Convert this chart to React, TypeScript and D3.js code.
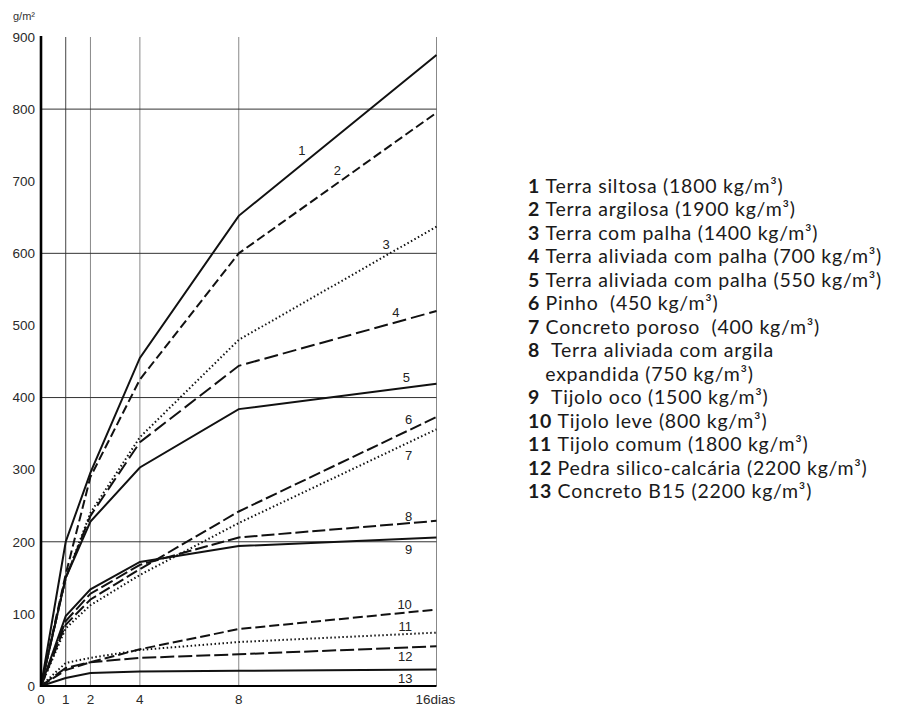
import React from 'react';
import * as d3 from 'd3';

// dias de exposição
const days = [0, 1, 2, 4, 8, 16];

// absorção de umidade (g/m²) por material
const s1 = [0, 200, 296, 455, 652, 875];
const s2 = [0, 155, 290, 425, 600, 795];
const s3 = [0, 150, 240, 345, 480, 637];
const s4 = [0, 150, 236, 338, 444, 520];
const s5 = [0, 150, 228, 303, 384, 419];
const s6 = [0, 85, 120, 162, 242, 373];
const s7 = [0, 80, 112, 154, 226, 356];
const s8 = [0, 90, 128, 168, 206, 229];
const s9 = [0, 97, 134, 172, 194, 206];
const s10 = [0, 22, 33, 51, 79, 106];
const s11 = [0, 32, 39, 50, 61, 74];
const s12 = [0, 25, 33, 39, 44, 55];
const s13 = [0, 11, 18, 20, 21, 23];

const series = [s1, s2, s3, s4, s5, s6, s7, s8, s9, s10, s11, s12, s13];

// tipo de traço de cada curva
const dashes = ['', '9 4', '1.5 2.5', '14 5', '', '12 4', '1.5 2.5', '13 4', '', '10 4', '1.5 2.5', '14 4', ''];

// onde vai o número de cada curva (dia, g/m²)
const labelAt: [number, number][] = [
  [10.55, 743], [11.99, 715], [13.96, 613], [14.36, 518], [14.78, 428],
  [14.87, 370], [14.87, 320], [14.87, 235], [14.87, 189],
  [14.71, 113], [14.74, 83], [14.74, 41], [14.74, 11],
];

const yTicks = [0, 100, 200, 300, 400, 500, 600, 700, 800, 900];
const xTicks = [0, 1, 2, 4, 8, 16];
const xTickText = ['0', '1', '2', '4', '8', '16dias'];
const hGrid = [200, 400, 600, 800];

const legendNum = ['1 ', '2 ', '3 ', '4 ', '5 ', '6 ', '7 ', '8  ', '', '9  ', '10 ', '11 ', '12 ', '13 '];
const legendText = [
  'Terra siltosa (1800 kg/m³)',
  'Terra argilosa (1900 kg/m³)',
  'Terra com palha (1400 kg/m³)',
  'Terra aliviada com palha (700 kg/m³)',
  'Terra aliviada com palha (550 kg/m³)',
  'Pinho  (450 kg/m³)',
  'Concreto poroso  (400 kg/m³)',
  'Terra aliviada com argila',
  '   expandida (750 kg/m³)',
  'Tijolo oco (1500 kg/m³)',
  'Tijolo leve (800 kg/m³)',
  'Tijolo comum (1800 kg/m³)',
  'Pedra silico-calcária (2200 kg/m³)',
  'Concreto B15 (2200 kg/m³)',
];

export default function App() {
  const x = d3.scaleLinear().domain([0, 16]).range([41, 436.5]);
  const y = d3.scaleLinear().domain([0, 900]).range([686, 37]);

  const line = d3.line<number>()
    .x((d, i) => x(days[i]))
    .y(d => y(d));

  const axisFont = 'Liberation Sans, Arial, sans-serif';
  const legendFont = 'Lato, sans-serif';

  return (
    <svg width={918} height={706} style={{ position: 'absolute', left: 0, top: 0, background: '#fff' }}>
      {/* grade */}
      {xTicks.slice(1).map(t => (
        <line key={'v' + t} x1={x(t)} x2={x(t)} y1={y(900)} y2={y(0)}
          stroke={t === 1 ? '#444' : '#888'} strokeWidth={1} />
      ))}
      {hGrid.map(t => (
        <line key={'h' + t} x1={x(0)} x2={x(16)} y1={y(t)} y2={y(t)} stroke="#333" strokeWidth={1} />
      ))}

      {/* curvas */}
      {series.map((s, i) => (
        <path key={i} d={line(s) || ''} fill="none" stroke="#111" strokeWidth={2}
          strokeDasharray={dashes[i] || undefined} />
      ))}

      {/* eixos */}
      <line x1={x(0)} x2={x(0)} y1={y(900) - 1} y2={y(0) + 1} stroke="#000" strokeWidth={2.6} />
      <line x1={x(0)} x2={x(16)} y1={y(0)} y2={y(0)} stroke="#000" strokeWidth={2} />

      {yTicks.map(t => (
        <text key={'yt' + t} x={35} y={y(t)} dy="0.35em" textAnchor="end"
          fontFamily={axisFont} fontSize={13.5} fill="#2a2a2a">{t}</text>
      ))}
      {xTicks.map((t, i) => (
        <text key={'xt' + t} x={i === 5 ? x(t) - 21 : x(t)} y={704} textAnchor={i === 5 ? 'start' : 'middle'}
          fontFamily={axisFont} fontSize={13.5} fill="#2a2a2a">{xTickText[i]}</text>
      ))}
      <text x={13} y={20} fontFamily={axisFont} fontSize={11} fill="#333">g/m²</text>

      {/* números das curvas */}
      {labelAt.map(([d, v], i) => (
        <text key={'l' + i} x={x(d)} y={y(v)} dy="0.35em" textAnchor="middle"
          fontFamily={axisFont} fontSize={13} fill="#222">{i + 1}</text>
      ))}

      {/* legenda */}
      {legendText.map((t, i) => (
        <text key={'lg' + i} x={528} y={186 + i * 23.5} dy="0.35em"
          fontFamily={legendFont} fontSize={19.5} letterSpacing={0.75} fill="#1a1a1a" style={{ whiteSpace: 'pre' }}>
          {legendNum[i] && <tspan fontWeight="bold">{legendNum[i]}</tspan>}
          {t}
        </text>
      ))}
    </svg>
  );
}
